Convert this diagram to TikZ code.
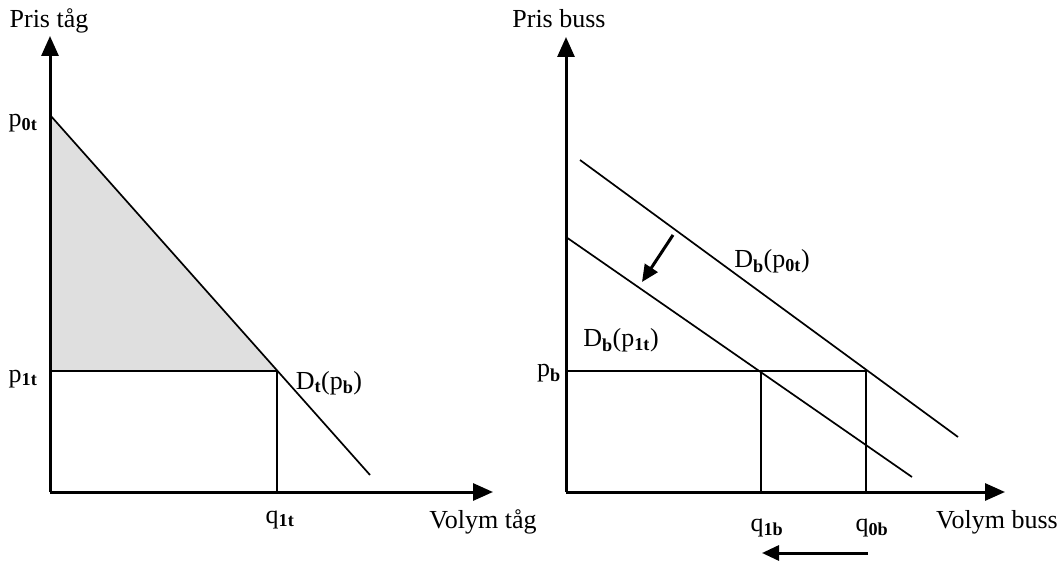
\documentclass[tikz,border=0pt]{standalone}
\usepackage{fontspec}
\setmainfont{Liberation Serif}
\usetikzlibrary{arrows.meta}

\newcommand{\sub}[1]{\textsubscript{\textbf{#1}}}

\begin{document}
\begin{tikzpicture}[x=1pt, y=-1pt,
        axis/.style={line width=3pt, -{Triangle[length=20pt,width=17pt]}},
        curve/.style={line width=1.7pt},
        movearrow/.style={line width=3pt, -{Triangle[length=17pt,width=15pt]}},
        lbl/.style={font=\fontsize{26}{31}\selectfont, inner sep=0pt, anchor=base}
    ]
        \useasboundingbox (0,0) rectangle (1063,561);

        % left: train
        \coordinate (lo) at (50,492);
        \coordinate (ly) at (50,36);
        \coordinate (lx) at (493,492);
        \coordinate (lp0) at (50,115);
        \coordinate (lp1) at (50,371);
        \coordinate (le) at (277,371);
        \coordinate (lq1) at (277,492);
        \coordinate (ldend) at (370,475);

        \fill[gray!25] (lp0) -- (le) -- (lp1) -- cycle;
        \draw[curve] (lp0) -- (ldend);
        \draw[curve] (lp1) -- (le) -- (lq1);
        \draw[axis] (lo) -- (ly);
        \draw[axis] (lo) -- (lx);

        \node[lbl] (lyl) at (49,28) {Pris tåg};
        \node[lbl] (lxl) at (483,528) {Volym tåg};
        \node[lbl] (lp0l) at (23,127) {p\sub{0t}};
        \node[lbl] (lp1l) at (23,382) {p\sub{1t}};
        \node[lbl] (lq1l) at (280,523) {q\sub{1t}};
        \node[lbl] (ldl) at (329,389) {D\sub{t}(p\sub{b})};

        % right: bus
        \coordinate (ro) at (566,492);
        \coordinate (ry) at (566,37);
        \coordinate (rx) at (1005,492);
        \coordinate (rpb) at (566,371);
        \coordinate (re1) at (761,371);
        \coordinate (re0) at (866,371);
        \coordinate (rq1) at (761,492);
        \coordinate (rq0) at (866,492);
        \coordinate (ru0) at (580,160);
        \coordinate (ru1) at (958,437);
        \coordinate (rl0) at (566,237);
        \coordinate (rl1) at (912,477);
        \coordinate (sfrom) at (673,235);
        \coordinate (sto) at (642,282);
        \coordinate (qfrom) at (868,553);
        \coordinate (qto) at (762,553);

        \draw[curve] (ru0) -- (ru1);
        \draw[curve] (rl0) -- (rl1);
        \draw[curve] (rpb) -- (re0) -- (rq0);
        \draw[curve] (re1) -- (rq1);
        \draw[axis] (ro) -- (ry);
        \draw[axis] (ro) -- (rx);
        \draw[movearrow] (sfrom) -- (sto);
        \draw[movearrow] (qfrom) -- (qto);

        \node[lbl] (ryl) at (559,28) {Pris buss};
        \node[lbl] (rxl) at (997,528) {Volym buss};
        \node[lbl] (rpbl) at (549,377) {p\sub{b}};
        \node[lbl] (rq1l) at (767,531) {q\sub{1b}};
        \node[lbl] (rq0l) at (872,531) {q\sub{0b}};
        \node[lbl] (rd0l) at (772,268) {D\sub{b}(p\sub{0t})};
        \node[lbl] (rd1l) at (621,347) {D\sub{b}(p\sub{1t})};
    \end{tikzpicture}
\end{document}
